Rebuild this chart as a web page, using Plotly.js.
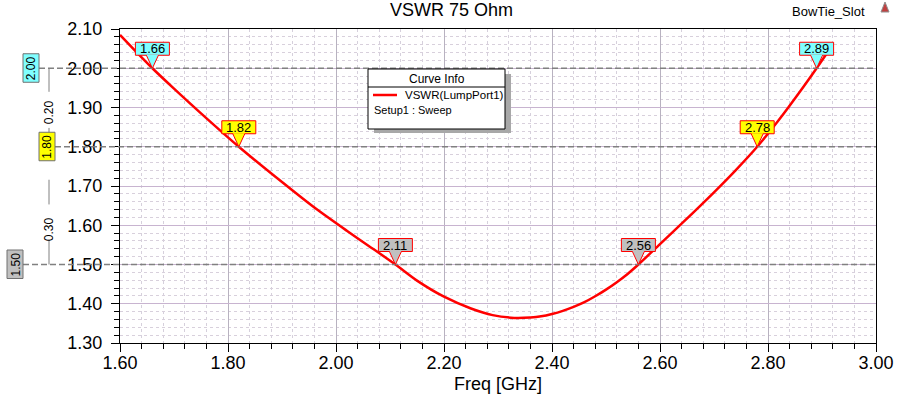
<!DOCTYPE html>
<html>
<head>
<meta charset="utf-8">
<script src="https://cdn.plot.ly/plotly-3.0.1.min.js"></script>
<style>html,body{margin:0;padding:0;background:#fff;}#chart{width:903px;height:394px;}</style>
</head>
<body>
<div id="chart"></div>
<script>
// ---- data ----
const seriesName = 'VSWR(LumpPort1)';
const setupName = 'Setup1 : Sweep';
const freq = [1.60, 1.63, 1.66, 1.70, 1.75, 1.82, 1.90, 1.96, 2.02, 2.06, 2.11, 2.15, 2.20, 2.25, 2.29, 2.33,
              2.36, 2.38, 2.40, 2.42, 2.44, 2.46, 2.48, 2.50, 2.52, 2.54, 2.56, 2.60, 2.64, 2.70, 2.74, 2.78,
              2.82, 2.86, 2.89, 2.91];
const vswr = [2.085, 2.042, 2.000, 1.948, 1.885, 1.800, 1.710, 1.645, 1.586, 1.548, 1.500, 1.459, 1.418, 1.388, 1.371, 1.364,
              1.365, 1.368, 1.374, 1.382, 1.392, 1.404, 1.419, 1.436, 1.455, 1.476, 1.500, 1.552, 1.604, 1.684, 1.740, 1.800,
              1.868, 1.942, 2.000, 2.040];
const markerFreq = [1.66, 1.82, 2.11, 2.56, 2.78, 2.89];
const markerLevel = [2.00, 1.80, 1.50, 1.50, 1.80, 2.00];
const markerLabel = ['1.66', '1.82', '2.11', '2.56', '2.78', '2.89'];
const levels = [2.00, 1.80, 1.50];
const levelLabels = ['2.00', '1.80', '1.50'];
const deltaLabels = ['0.20', '0.30'];
const xTickVals = [1.60, 1.80, 2.00, 2.20, 2.40, 2.60, 2.80, 3.00];
const yTickVals = [1.30, 1.40, 1.50, 1.60, 1.70, 1.80, 1.90, 2.00, 2.10];

// ---- style / layout config ----
const FONT = 'Liberation Sans, Arial, sans-serif';
const M = {l: 120, r: 27, t: 29, b: 51};
const W = 903, H = 394;
const PW = W - M.l - M.r, PH = H - M.t - M.b;
const px2x = p => (p - M.l) / PW;
const px2y = p => (H - M.b - p) / PH;
const levelFill = {'2.00': '#80ffff', '1.80': '#ffff00', '1.50': '#c0c0c0'};
const levelBox = {'2.00': [-97, -81], '1.80': [-81, -65], '1.50': [-113, -97]};
const deltaX = -71;               // vertical delta line, px from plot left
const deltaSeg = [ {a: [0, 0.30], b: [0.76, 1.0], t: 0.56},
                   {a: [0.28, 0.49], b: [0.79, 1.0], t: 0.70} ];

const shapes = [];
const annotations = [];

// level dashed lines
levels.forEach((lv, i) => {
  const bx = levelBox[levelLabels[i]];
  shapes.push({type: 'line', xref: 'paper', yref: 'y', x0: (bx[1]) / PW, x1: 1, y0: lv, y1: lv,
               line: {color: '#808080', width: 1.5, dash: '6px,3px'}, layer: 'above'});
});
// delta vertical segments
for (let i = 0; i < deltaLabels.length; i++) {
  const a = levels[i], b = levels[i + 1];
  const s = deltaSeg[i];
  [s.a, s.b].forEach(seg => {
    shapes.push({type: 'line', xref: 'paper', yref: 'y', x0: deltaX / PW, x1: deltaX / PW,
                 y0: a + (b - a) * seg[0], y1: a + (b - a) * seg[1],
                 line: {color: '#808080', width: 1}, layer: 'above'});
  });
  annotations.push({xref: 'paper', yref: 'y', x: deltaX / PW, y: a + (b - a) * s.t, text: deltaLabels[i],
                    textangle: -90, showarrow: false, font: {family: FONT, size: 12, color: '#000'},
                    xanchor: 'center', yanchor: 'middle'});
}
// left level boxes
levels.forEach((lv, i) => {
  const key = levelLabels[i];
  const bx = levelBox[key];
  shapes.push({type: 'path', xref: 'paper', yref: 'y', xsizemode: 'pixel', ysizemode: 'pixel',
               xanchor: 0, yanchor: lv,
               path: `M${bx[0]},14.5 H${bx[1]} V-14 H${bx[0]} Z`,
               fillcolor: levelFill[key], line: {color: '#707070', width: 1}, layer: 'above'});
  annotations.push({xref: 'paper', yref: 'y', x: 0, xshift: (bx[0] + bx[1]) / 2, y: lv, text: key,
                    textangle: -90, showarrow: false, font: {family: FONT, size: 12, color: '#000'},
                    xanchor: 'center', yanchor: 'middle'});
});

// markers on the curve
markerFreq.forEach((f, i) => {
  const fill = levelFill[markerLevel[i].toFixed(2)];
  shapes.push({type: 'path', xref: 'x', yref: 'y', xsizemode: 'pixel', ysizemode: 'pixel',
               xanchor: f, yanchor: markerLevel[i], path: 'M-17,13 H17 V26 H-17 Z',
               fillcolor: fill, line: {color: '#ff0000', width: 1}, layer: 'above'});
  shapes.push({type: 'path', xref: 'x', yref: 'y', xsizemode: 'pixel', ysizemode: 'pixel',
               xanchor: f, yanchor: markerLevel[i], path: 'M-6,13.5 L0,0 L6,13.5 Z',
               fillcolor: fill, line: {color: 'rgba(0,0,0,0)', width: 0}, layer: 'above'});
  shapes.push({type: 'path', xref: 'x', yref: 'y', xsizemode: 'pixel', ysizemode: 'pixel',
               xanchor: f, yanchor: markerLevel[i], path: 'M-6,13 L0,0 L6,13',
               line: {color: '#ff0000', width: 1}, layer: 'above'});
  annotations.push({xref: 'x', yref: 'y', x: f, y: markerLevel[i], yshift: 19.5, text: markerLabel[i],
                    showarrow: false, font: {family: FONT, size: 13, color: '#000'},
                    xanchor: 'center', yanchor: 'middle'});
});

// curve info box
const bx0 = 368, bx1 = 505, by0 = 69, by1 = 129;
shapes.push({type: 'rect', xref: 'paper', yref: 'paper', x0: px2x(bx0 + 6), x1: px2x(bx1 + 6),
             y0: px2y(by0 + 5), y1: px2y(by1 + 4), fillcolor: '#a8a8a8', line: {width: 0}, layer: 'above'});
shapes.push({type: 'rect', xref: 'paper', yref: 'paper', x0: px2x(bx0), x1: px2x(bx1),
             y0: px2y(by0), y1: px2y(by1), fillcolor: '#ffffff', line: {color: '#000', width: 1}, layer: 'above'});
shapes.push({type: 'line', xref: 'paper', yref: 'paper', x0: px2x(bx0), x1: px2x(bx1),
             y0: px2y(87), y1: px2y(87), line: {color: '#000', width: 1}, layer: 'above'});
shapes.push({type: 'line', xref: 'paper', yref: 'paper', x0: px2x(373), x1: px2x(397),
             y0: px2y(95), y1: px2y(95), line: {color: '#ff0000', width: 2.5}, layer: 'above'});
annotations.push({xref: 'paper', yref: 'paper', x: px2x(437), y: px2y(79), text: 'Curve Info', showarrow: false,
                  font: {family: FONT, size: 12, color: '#000'}, xanchor: 'center', yanchor: 'middle'});
annotations.push({xref: 'paper', yref: 'paper', x: px2x(403), y: px2y(95), text: seriesName, showarrow: false,
                  font: {family: FONT, size: 11.5, color: '#000'}, xanchor: 'left', yanchor: 'middle'});
annotations.push({xref: 'paper', yref: 'paper', x: px2x(372), y: px2y(110), text: setupName, showarrow: false,
                  font: {family: FONT, size: 11, color: '#000'}, xanchor: 'left', yanchor: 'middle'});

// top-right project name + icon
annotations.push({xref: 'paper', yref: 'paper', x: px2x(828), y: px2y(11), text: 'BowTie_Slot', showarrow: false,
                  font: {family: FONT, size: 13, color: '#000'}, xanchor: 'center', yanchor: 'middle'});
shapes.push({type: 'path', xref: 'paper', yref: 'paper', xsizemode: 'pixel', ysizemode: 'pixel',
             xanchor: 1, yanchor: 1, path: 'M5,17 L9,27 L13,17 Z', fillcolor: '#c04040',
             line: {color: '#909090', width: 1}, layer: 'above'});

const trace = {x: freq, y: vswr, type: 'scatter', mode: 'lines', name: seriesName,
               line: {color: '#ff0000', width: 2.5, shape: 'spline', smoothing: 0.8},
               showlegend: false, hoverinfo: 'skip'};
// empty helper trace so the tick-only overlay axis gets drawn
const tickTrace = {x: [], y: [], type: 'scatter', mode: 'lines', xaxis: 'x2', yaxis: 'y',
                   showlegend: false, hoverinfo: 'skip'};

const layout = {
  width: W, height: H, margin: M,
  paper_bgcolor: '#ffffff', plot_bgcolor: '#ffffff',
  title: {text: 'VSWR 75 Ohm', x: 0.5, xref: 'container', xanchor: 'center',
          y: 1 - 9.5 / H, yref: 'container', yanchor: 'middle',
          font: {family: FONT, size: 18, color: '#000'}},
  xaxis: {
    range: [1.6, 3.0], tickvals: xTickVals, tickformat: '.2f',
    showline: true, linecolor: '#000', linewidth: 1, mirror: true,
    ticks: '', ticklabelstandoff: 3,
    tickfont: {family: FONT, size: 18, color: '#000'},
    zeroline: false, showgrid: true, gridwidth: 1, gridcolor: '#b8b2c0',
    minor: {dtick: 0.04, tick0: 1.6, ticks: '', showgrid: true, gridcolor: '#d6d0dc', griddash: 'dot', gridwidth: 1},
    title: {text: 'Freq [GHz]', font: {family: FONT, size: 18, color: '#000'}, standoff: 8}
  },
  xaxis2: {
    overlaying: 'x', anchor: 'y', side: 'bottom', range: [1.6, 3.0], tickvals: xTickVals,
    showticklabels: false, showline: false, showgrid: false, zeroline: false,
    ticks: 'outside', ticklen: 8, tickwidth: 1, tickcolor: '#000',
    minor: {dtick: 0.04, tick0: 1.6, ticks: 'outside', ticklen: 5, tickwidth: 1, tickcolor: '#000', showgrid: false}
  },
  yaxis: {
    range: [1.3, 2.1], tickvals: yTickVals, tickformat: '.2f',
    showline: true, linecolor: '#000', linewidth: 1, mirror: true,
    ticks: 'outside', ticklen: 8, tickwidth: 1, tickcolor: '#000', ticklabelstandoff: 5,
    tickfont: {family: FONT, size: 18, color: '#000'},
    zeroline: false, showgrid: true, gridwidth: 1, gridcolor: '#c8b4d0',
    minor: {dtick: 0.02, tick0: 1.3, ticks: 'outside', ticklen: 5, tickcolor: '#000', tickwidth: 1,
            showgrid: true, gridcolor: '#d8d0dc', griddash: 'dot', gridwidth: 1}
  },
  shapes: shapes, annotations: annotations, showlegend: false
};

Plotly.newPlot('chart', [trace, tickTrace], layout, {displayModeBar: false, staticPlot: true});
</script>
</body>
</html>
